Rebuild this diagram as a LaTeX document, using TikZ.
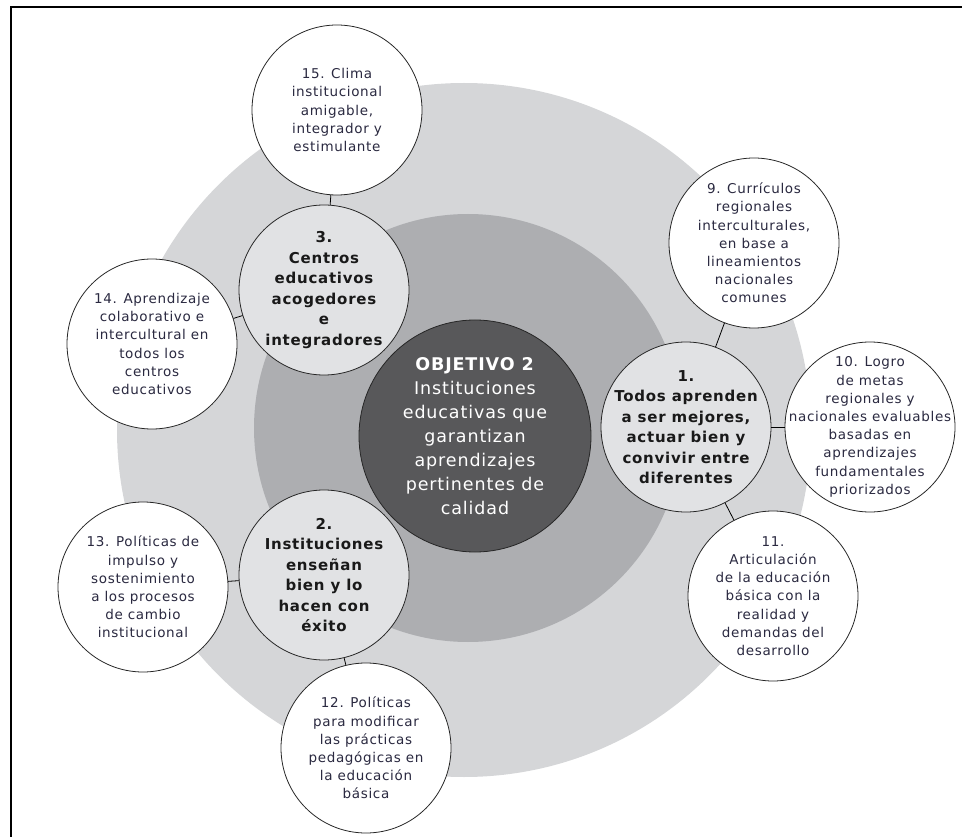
\documentclass[tikz,border=0pt]{standalone}
\usepackage{fontspec}
\setmainfont[LetterSpace=5]{DejaVu Sans}
\definecolor{ringout}{HTML}{D5D6D8}
\definecolor{ringmid}{HTML}{ADAEB1}
\definecolor{goalfill}{HTML}{58585A}
\definecolor{axisfill}{HTML}{E1E2E4}
\definecolor{itemtext}{HTML}{2A2940}
\begin{document}
\begin{tikzpicture}[x=1pt, y=-1pt,
  every node/.style = {shape=circle, draw=black!85, line width=0.8pt,
    align=center, inner sep=-30pt, minimum size=170pt},
  item/.style = {fill=white, text=itemtext,
    font=\fontsize{13.5}{18.2}\selectfont},
  axis/.style = {fill=axisfill, text=black!90,
    font=\fontsize{15}{20.5}\selectfont\bfseries},
  goal/.style = {fill=goalfill, text=white, minimum size=232pt,
    font=\fontsize{17.5}{24}\selectfont}]
  \useasboundingbox (0,0) rectangle (962,837);
  \fill[ringout] (464,430) circle (347pt);
  \fill[ringmid] (468,428) circle (214pt);
  \draw[line width=1.2pt] (11,837) -- (11,7) -- (962,7);

  \node[goal] (obj) at (475,436) {\textbf{OBJETIVO 2}\\Instituciones\\educativas que\\garantizan\\aprendizajes\\pertinentes de\\calidad};

  \node[axis] (n1) at (686,427) {1.\\Todos aprenden\\a ser mejores,\\actuar bien  y\\convivir entre\\diferentes};
  \node[axis] (n2) at (324,575) {2.\\Instituciones\\enseñan\\bien y lo\\hacen con\\éxito};
  \node[axis] (n3) at (324,290) {3.\\Centros\\educativos\\acogedores\\e\\integradores};

  \node[item] (n9) at (754,243) {9. Currículos\\regionales\\interculturales,\\en base a\\lineamientos\\nacionales\\comunes};
  \node[item] (n10) at (870,427) {10. Logro\\de metas\\regionales y\\nacionales evaluables\\basadas en\\aprendizajes\\fundamentales\\priorizados};
  \node[item] (n11) at (773,596) {11.\\Articulación\\de la educación\\básica con la\\realidad y\\demandas del\\desarrollo};
  \node[item] (n12) at (366,748) {12. Políticas\\para modificar\\las prácticas\\pedagógicas en\\la educación\\básica};
  \node[item] (n13) at (143,587) {13. Políticas de\\impulso y\\sostenimiento\\a los procesos\\de cambio\\institucional};
  \node[item] (n14) at (152,344) {14. Aprendizaje\\colaborativo e\\intercultural en\\todos los\\centros\\educativos};
  \node[item] (n15) at (337,110) {15. Clima\\institucional\\amigable,\\integrador y\\estimulante};

  \draw[line width=0.8pt] (n1) -- (n9);
  \draw[line width=0.8pt] (n1) -- (n10);
  \draw[line width=0.8pt] (n1) -- (n11);
  \draw[line width=0.8pt] (n2) -- (n12);
  \draw[line width=0.8pt] (n2) -- (n13);
  \draw[line width=0.8pt] (n3) -- (n14);
  \draw[line width=0.8pt] (n3) -- (n15);
\end{tikzpicture}
\end{document}
